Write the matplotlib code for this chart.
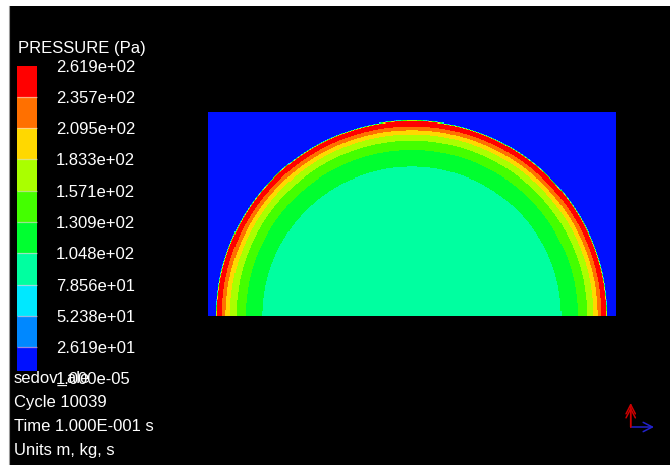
import numpy as np
import matplotlib
matplotlib.use("Agg")
import matplotlib.pyplot as plt
from matplotlib.colors import ListedColormap, BoundaryNorm
from matplotlib.cm import ScalarMappable
from matplotlib.patches import Rectangle, FancyArrowPatch
from matplotlib.lines import Line2D

plt.rcParams['font.family'] = ['Liberation Sans', 'DejaVu Sans']

# ---- data -----------------------------------------------------------------
# contour levels of the pressure field (Pa)
levels = [1.000e-05, 2.619e+01, 5.238e+01, 7.856e+01, 1.048e+02, 1.309e+02,
          1.571e+02, 1.833e+02, 2.095e+02, 2.357e+02, 2.619e+02]
band_colors = ['#0010ff', '#0088ff', '#00e8ff', '#00ffa0', '#00ff30',
               '#44ff00', '#aaff00', '#ffd800', '#ff7000', '#ff0000']

# radial pressure profile of the blast wave (radius in m, pressure in Pa)
profile_r = [0.0, 0.733, 0.815, 0.861, 0.892, 0.913, 0.932, 0.955, 0.962, 1.5]
profile_p = [92.0, 104.8, 130.9, 157.1, 183.3, 209.5, 235.7, 261.0, 1.0e-03, 1.0e-03]

# computational domain (m) and mesh size
x_range = (-1.0, 1.0)
y_range = (0.0, 1.0)
nx, ny = 400, 200

run_name = "sedov_ale"
info_lines = ["Cycle 10039", "Time 1.000E-001 s", "Units m, kg, s"]
field_title = "PRESSURE (Pa)"

# ---- figure ---------------------------------------------------------------
W, H, DPI = 670, 465, 100
fig = plt.figure(figsize=(W / DPI, H / DPI), dpi=DPI, facecolor='white')


def fx(px):
    return px / W


def fy(py):
    return 1.0 - py / H


# black viewport with a thin grey rule at its left side
fig.add_artist(Rectangle((fx(9), 0), 1 - fx(9), fy(6), transform=fig.transFigure,
                         facecolor='black', edgecolor='none', zorder=0))
fig.add_artist(Line2D([fx(8.5), fx(8.5)], [0, fy(6)], transform=fig.transFigure,
                      color='#9a9a9a', lw=0.8, zorder=0.5))

cmap = ListedColormap(band_colors)
cmap.set_under(band_colors[0])
cmap.set_over(band_colors[-1])
norm = BoundaryNorm(levels, cmap.N)

# pressure field on the mesh
xe = np.linspace(x_range[0], x_range[1], nx + 1)
ye = np.linspace(y_range[0], y_range[1], ny + 1)
X, Y = np.meshgrid(0.5 * (xe[:-1] + xe[1:]), 0.5 * (ye[:-1] + ye[1:]))
P = np.interp(np.hypot(X, Y), profile_r, profile_p)

ax = fig.add_axes([fx(208), fy(316), (615.5 - 208) / W, (316 - 112.3) / H])
ax.pcolormesh(xe, ye, P, cmap=cmap, norm=norm, shading='flat',
              edgecolors='none', antialiased=False, rasterized=True)
ax.set_xlim(*x_range)
ax.set_ylim(*y_range)
ax.set_axis_off()

# colour legend
cax = fig.add_axes([fx(17.3), fy(378.3), 19.4 / W, (378.3 - 65.7) / H])
cb = fig.colorbar(ScalarMappable(norm=norm, cmap=cmap), cax=cax, ticks=levels,
                  spacing='uniform', drawedges=True)
cb.outline.set_visible(False)
cb.dividers.set_color('#ffd0d0')
cb.dividers.set_alpha(0.6)
cb.dividers.set_linewidth(0.9)
cax.set_yticklabels([f"{v:.3e}" for v in levels])
cax.tick_params(axis='y', length=0, pad=14, labelcolor='white', labelsize=12)
cax.yaxis.set_zorder(2.6)

fig.text(fx(18.3), fy(53.5), field_title, color='white', fontsize=12,
         ha='left', va='baseline')

# run name sits on an opaque box drawn over the bottom of the legend bar
cax.text(fx(14), fy(383), run_name, transform=fig.transFigure, color='white',
         fontsize=12, ha='left', va='baseline', clip_on=False, zorder=2.4,
         bbox=dict(facecolor='black', edgecolor='none', pad=0.2))

for i, line in enumerate(info_lines):
    fig.text(fx(14), fy(407 + 24 * i), line, color='white', fontsize=12,
             ha='left', va='baseline')

# coordinate triad
origin = (fx(630.7), fy(427))
arrow = '->,head_length=0.55,head_width=0.28'
fig.add_artist(FancyArrowPatch(origin, (fx(654), fy(427)), transform=fig.transFigure,
                               arrowstyle=arrow, mutation_scale=12,
                               color='#2222cc', lw=1.1, shrinkA=0, shrinkB=0))
fig.add_artist(FancyArrowPatch(origin, (fx(630.7), fy(403)), transform=fig.transFigure,
                               arrowstyle=arrow, mutation_scale=12,
                               color='#cc0000', lw=1.1, shrinkA=0, shrinkB=0))
fig.add_artist(FancyArrowPatch(origin, (fx(630.7), fy(407)), transform=fig.transFigure,
                               arrowstyle=arrow, mutation_scale=12,
                               color='#cc0000', lw=1.1, shrinkA=0, shrinkB=0))

fig.savefig("out.png", dpi=DPI, facecolor='white')
